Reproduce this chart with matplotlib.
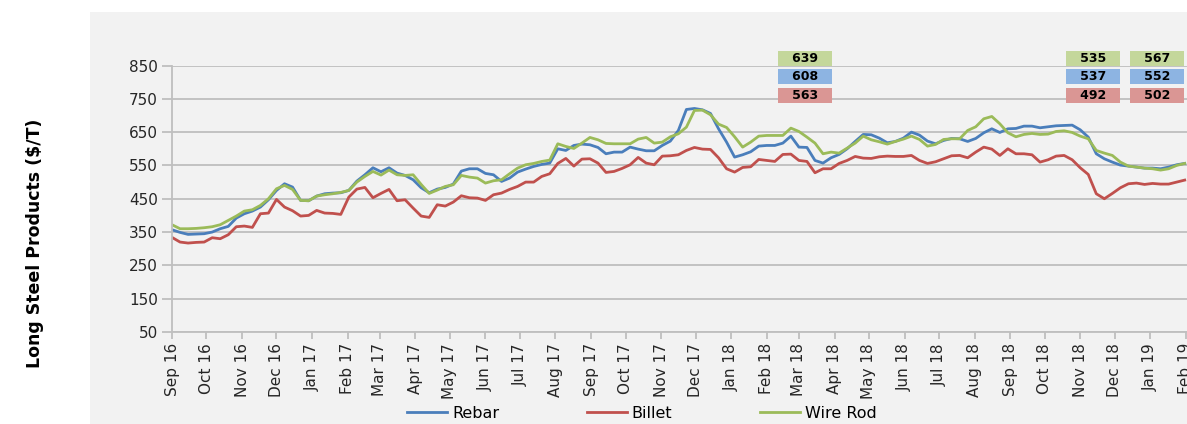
import matplotlib
matplotlib.use("Agg")
import matplotlib.pyplot as plt
import matplotlib.dates as mdates
from matplotlib.patches import Rectangle
import pandas as pd

# weekly prices, $/T
weeks = pd.date_range("2016-09-01", periods=127, freq="7D")

rebar = [357, 349, 343, 344, 345, 350, 360, 367, 392, 405, 413, 425, 447, 475, 495, 485, 445, 444, 458, 465, 467,
         468, 475, 503, 522, 543, 531, 543, 527, 520, 507, 483, 468, 479, 484, 494, 533, 540, 540, 526, 522, 502,
         512, 530, 539, 547, 553, 557, 600, 595, 610, 614, 612, 604, 585, 590, 590, 605, 599, 594, 594, 610, 623, 655,
         718, 721, 717, 706, 660, 620, 575, 582, 591, 608, 610, 610, 617, 638, 605, 604, 565, 557, 573, 583, 600,
         622, 643, 642, 632, 618, 622, 632, 650, 641, 623, 615, 625, 631, 630, 622, 631, 648, 660, 649, 660, 661,
         668, 668, 663, 666, 669, 670, 671, 657, 635, 585, 570, 560, 551, 548, 545, 542, 542, 540, 545, 552, 556]

billet = [334, 320, 317, 319, 320, 333, 330, 342, 366, 368, 364, 405, 407, 448, 425, 414, 398, 400, 415, 407, 406,
          403, 455, 479, 484, 453, 466, 478, 444, 447, 422, 398, 394, 432, 428, 440, 459, 453, 452, 445, 462, 467,
          478, 487, 500, 500, 517, 525, 556, 571, 548, 569, 570, 557, 529, 532, 541, 552, 574, 557, 552, 578, 579, 582,
          595, 604, 599, 598, 573, 540, 530, 544, 546, 568, 565, 562, 583, 584, 565, 562, 528, 540, 540, 556, 565,
          577, 572, 571, 576, 578, 577, 577, 580, 565, 556, 561, 570, 579, 580, 573, 590, 605, 599, 580, 600, 585,
          585, 582, 560, 567, 578, 580, 567, 543, 523, 465, 450, 466, 483, 495, 497, 493, 496, 494, 494, 500, 506]

wire_rod = [372, 360, 360, 361, 363, 366, 372, 385, 398, 413, 417, 430, 450, 480, 490, 478, 445, 444, 458, 462, 465,
            469, 475, 500, 517, 532, 521, 536, 522, 520, 522, 493, 466, 476, 487, 492, 520, 515, 512, 497, 504, 507,
            525, 542, 552, 556, 562, 566, 615, 607, 601, 617, 634, 627, 616, 615, 615, 615, 629, 634, 617, 620, 636, 645,
            665, 715, 716, 702, 674, 664, 636, 605, 620, 638, 640, 640, 640, 662, 652, 635, 617, 585, 590, 587, 602,
            617, 638, 627, 621, 614, 622, 629, 638, 628, 608, 613, 628, 630, 630, 655, 666, 690, 697, 675, 648, 636,
            643, 646, 643, 644, 652, 654, 649, 638, 630, 595, 587, 580, 560, 548, 545, 542, 540, 536, 540, 550, 556]

# value boxes shown above the lines
box_dates = ["2018-03-06", "2018-11-12", "2019-01-07"]
box_wire = [639, 535, 567]
box_rebar = [608, 537, 552]
box_billet = [563, 492, 502]

c_rebar = "#4a7ebb"
c_billet = "#c0504d"
c_wire = "#9bbb59"

fig = plt.figure(figsize=(11.87, 4.24), dpi=100)
bg = Rectangle((90 / 1187, 0), 1, 1 - 12 / 424, transform=fig.transFigure,
               facecolor="#f2f2f2", edgecolor="none", zorder=-10)
fig.patches.append(bg)

ax = fig.add_axes([172 / 1187, 1 - 332 / 424, 1046 / 1187, 266.5 / 424])
ax.patch.set_alpha(0)

ax.plot(weeks, rebar, color=c_rebar, lw=2, label="Rebar")
ax.plot(weeks, billet, color=c_billet, lw=2, label="Billet")
ax.plot(weeks, wire_rod, color=c_wire, lw=2, label="Wire Rod")

ax.set_ylim(50, 850)
ax.set_yticks(range(50, 851, 100))
ax.set_xlim(pd.Timestamp("2016-09-01"), pd.Timestamp("2019-03-01"))
ax.xaxis.set_major_locator(mdates.MonthLocator())
ax.xaxis.set_major_formatter(mdates.DateFormatter("%b %y"))
ax.grid(axis="y", color="#bfbfbf", lw=1.3)
ax.set_axisbelow(True)
for s in ["top", "right"]:
    ax.spines[s].set_visible(False)
for s in ["left", "bottom"]:
    ax.spines[s].set_color("#bfbfbf")
    ax.spines[s].set_linewidth(1.3)
ax.tick_params(axis="y", length=7, color="#bfbfbf", width=1.3, labelsize=11, labelcolor="#262626", pad=3)
ax.tick_params(axis="x", length=5, color="#bfbfbf", width=1.3, labelsize=11, labelcolor="#262626",
               labelrotation=90, pad=3)

for d, g, b, r in zip(box_dates, box_wire, box_rebar, box_billet):
    x = pd.Timestamp(d)
    for val, ypos, col in [(g, 870, "#c4d79b"), (b, 816, "#8db4e2"), (r, 760, "#da9694")]:
        ax.text(x, ypos, "   %d   " % val, ha="center", va="center", fontsize=9, fontweight="bold",
                color="black", bbox=dict(boxstyle="square,pad=0.08", fc=col, ec="none"), clip_on=False)

fig.text(35 / 1187, 1 - 243 / 424, "Long Steel Products ($/T)", rotation=90, ha="center", va="center",
         fontsize=12.5, fontweight="bold", color="black")

fig.legend(loc="center", bbox_to_anchor=(642 / 1187, 1 - 413 / 424), ncol=3, frameon=False,
           fontsize=11.5, handlelength=2.5, handletextpad=0.3, columnspacing=5.5)

fig.savefig("out.png", dpi=100)
